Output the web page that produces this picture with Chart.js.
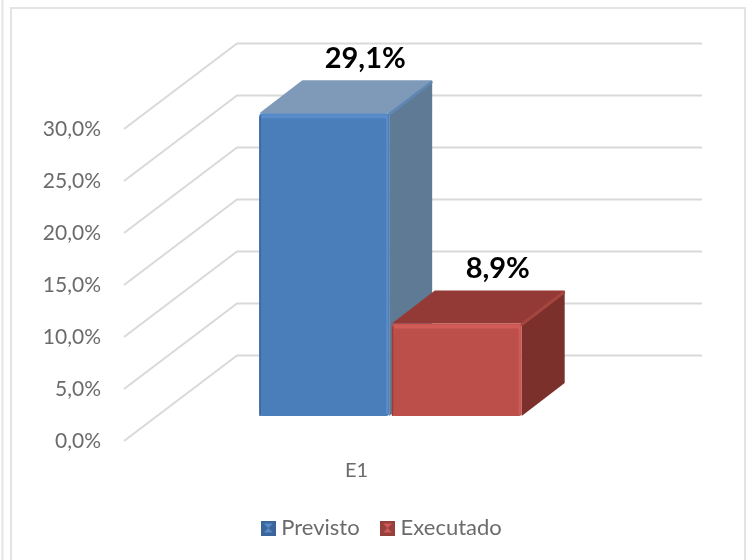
<!DOCTYPE html>
<html>
<head>
<meta charset="utf-8">
<script src="https://cdn.jsdelivr.net/npm/chart.js@4"></script>
<style>
  html, body { margin: 0; padding: 0; background: #fff; }
  canvas { display: block; }
</style>
</head>
<body>
<canvas id="grafico" width="752" height="560"></canvas>
<script>
var categorias = ["E1"];
var previsto = [29.1];
var executado = [8.9];
var marcasY = [0, 5, 10, 15, 20, 25, 30];

// Deslocamentos do efeito 3D
var paredeX = 113, paredeY = -85.5;   // fundo do grafico
var barraX = 34, barraY = -25;        // frente da barra
var fundoX = 43, fundoY = -33;        // profundidade da barra

var cores = [
    { frente: '#4a7ebb', claro: '#5a8ccb', escuro: '#3a659a', lado: '#5f7a94', topo: '#7f9ab8', aresta: '#5f87b3' },
    { frente: '#bd4f4a', claro: '#d25a57', escuro: '#96403c', lado: '#7b302c', topo: '#943a36', aresta: '#a5453f' }
];

function formata(v) {
    return v.toFixed(1).replace('.', ',') + '%';
}

function icone(c) {
    var cv = document.createElement('canvas');
    cv.width = 15; cv.height = 15;
    var g = cv.getContext('2d');
    g.fillStyle = c.escuro;
    g.fillRect(0, 0, 15, 15);
    g.fillStyle = c.claro;
    g.beginPath();
    g.moveTo(3, 3); g.lineTo(12, 3); g.lineTo(7.5, 7.5); g.lineTo(12, 12); g.lineTo(3, 12); g.lineTo(7.5, 7.5);
    g.closePath();
    g.fill();
    return cv;
}
var icones = [icone(cores[0]), icone(cores[1])];

var efeito3d = {
    id: 'efeito3d',
    beforeDraw: function (chart) {
        var c = chart.ctx;
        c.save();
        c.strokeStyle = '#e4e4e4';
        c.lineWidth = 2;
        c.beginPath();
        c.moveTo(11, 562); c.lineTo(11, 8); c.lineTo(745, 8); c.lineTo(745, 562);
        c.moveTo(2.5, 0); c.lineTo(2.5, 562);
        c.stroke();
        c.restore();
    },
    beforeDatasetsDraw: function (chart) {
        var c = chart.ctx, y = chart.scales.y, x = chart.scales.x;
        c.save();
        c.strokeStyle = '#d9d9d9';
        c.lineWidth = 2;
        marcasY.forEach(function (m) {
            var p = y.getPixelForValue(m);
            c.beginPath();
            c.moveTo(x.left, p);
            c.lineTo(x.left + paredeX, p + paredeY);
            c.lineTo(x.right + paredeX, p + paredeY);
            c.stroke();
        });
        // lados e topos primeiro: as frentes da biblioteca ficam por cima
        chart.data.datasets.forEach(function (ds, i) {
            var cor = cores[i];
            var b = chart.getDatasetMeta(i).data[0];
            var e = b.x - b.width / 2, d = b.x + b.width / 2;
            c.save();
            c.translate(barraX, barraY);
            c.fillStyle = cor.lado;
            c.beginPath();
            c.moveTo(d, b.y); c.lineTo(d + fundoX, b.y + fundoY);
            c.lineTo(d + fundoX, b.base + fundoY); c.lineTo(d, b.base);
            c.closePath();
            c.fill();
            c.fillStyle = cor.topo;
            c.beginPath();
            c.moveTo(e, b.y); c.lineTo(e + fundoX, b.y + fundoY);
            c.lineTo(d + fundoX, b.y + fundoY); c.lineTo(d, b.y);
            c.closePath();
            c.fill();
            // aresta clara entre topo e lado
            c.strokeStyle = cor.aresta;
            c.lineWidth = 3;
            c.lineCap = 'round';
            c.beginPath();
            c.moveTo(d, b.y + 1); c.lineTo(d + fundoX - 1, b.y + fundoY + 2);
            c.stroke();
            c.restore();
        });
    },
    beforeDatasetDraw: function (chart) {
        chart.ctx.save();
        chart.ctx.translate(barraX, barraY);
    },
    afterDatasetDraw: function (chart, args) {
        var c = chart.ctx, cor = cores[args.index];
        var b = args.meta.data[0];
        var e = b.x - b.width / 2, d = b.x + b.width / 2;
        // chanfro claro na frente
        c.fillStyle = cor.claro;
        c.fillRect(e + 2, b.y + 1, b.width - 4, 4);
        c.fillRect(d - 3, b.y + 2, 2, b.base - b.y - 4);
        c.fillStyle = cor.escuro;
        c.fillRect(e, b.y + 3, 1.5, b.base - b.y - 3);
        c.restore();
    },
    afterDatasetsDraw: function (chart) {
        var c = chart.ctx;
        c.save();
        c.fillStyle = '#000';
        c.font = 'bold 29px Lato';
        c.textAlign = 'center';
        c.textBaseline = 'middle';
        chart.data.datasets.forEach(function (ds, i) {
            var b = chart.getDatasetMeta(i).data[0];
            c.fillText(formata(ds.data[0]), b.x + barraX + 41, b.y + barraY - 55);
        });
        c.restore();
    }
};

var graficoBarra = new Chart(document.getElementById('grafico'), {
    type: 'bar',
    plugins: [efeito3d],
    data: {
        labels: categorias,
        datasets: [{
            label: "Previsto",
            data: previsto,
            backgroundColor: cores[0].frente,
            borderRadius: 3,
            borderSkipped: false,
            clip: false
        },
        {
            label: "Executado",
            data: executado,
            backgroundColor: cores[1].frente,
            borderRadius: 3,
            borderSkipped: false,
            clip: false
        }]
    },
    options: {
        responsive: false,
        animation: false,
        layout: { padding: { top: 129, left: 16, right: 0, bottom: 11 } },
        datasets: { bar: { categoryPercentage: 0.57, barPercentage: 0.98 } },
        scales: {
            x: {
                grid: { display: false },
                border: { display: false },
                ticks: { color: '#6b6b6b', font: { family: 'Lato', size: 20 }, padding: 10 },
                afterFit: function (s) { s.height = 50; }
            },
            y: {
                min: 0,
                max: 30,
                afterFit: function (s) { s.width = 108; },
                grid: { display: false, drawTicks: false },
                border: { display: false },
                ticks: {
                    stepSize: 5,
                    padding: 23,
                    color: '#6b6b6b',
                    font: { family: 'Lato', size: 21 },
                    callback: function (v) { return formata(v); }
                }
            },
            // so reserva a margem direita do plano frontal
            margem: {
                position: 'right',
                display: true,
                grid: { display: false },
                border: { display: false },
                ticks: { display: false },
                afterFit: function (s) { s.width = 163; }
            }
        },
        plugins: {
            tooltip: { enabled: false },
            legend: {
                position: 'bottom',
                labels: {
                    usePointStyle: true,
                    pointStyleWidth: 4,
                    color: '#6b6b6b',
                    font: { family: 'Lato', size: 22 },
                    padding: 26,
                    generateLabels: function (chart) {
                        var itens = Chart.defaults.plugins.legend.labels.generateLabels(chart);
                        itens.forEach(function (it) { it.pointStyle = icones[it.datasetIndex]; });
                        return itens;
                    }
                }
            }
        }
    }
});
</script>
</body>
</html>
